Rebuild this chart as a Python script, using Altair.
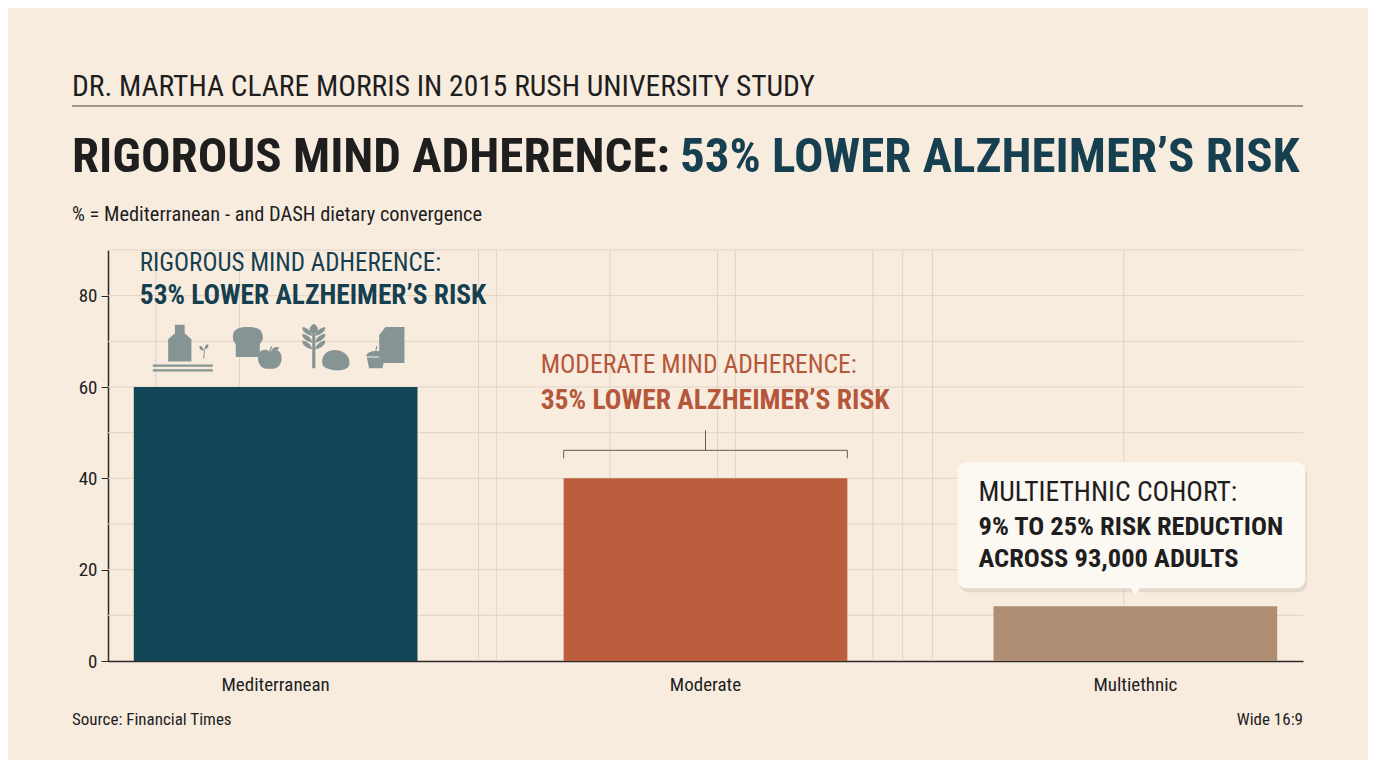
import pandas as pd
import altair as alt

# values
categories = ["Mediterranean", "Moderate", "Multiethnic"]
values = [60, 40, 12]
bar_colors = ["#124657", "#bc5e3d", "#b08e74"]
y_ticks = [0, 20, 40, 60, 80]
grid_y = [10, 20, 30, 40, 50, 60, 70, 80, 90]
grid_x = [4, 11, 31, 32.5, 42, 51, 52.5, 64, 66.5, 69, 85]

COND = "Roboto Condensed, Liberation Sans Narrow, DejaVu Sans Condensed, Arial Narrow, sans-serif"
BG = "#f8ecdf"
INK = "#1e1e1e"
TEAL = "#163f50"
RUST = "#b5573a"
GRID = "#e2d3c2"
ICON = "#869494"

W, H = 1195, 411

df = pd.DataFrame({"cat": categories, "value": values})
med = df[df.cat == "Mediterranean"]
mod = df[df.cat == "Moderate"]
mul = df[df.cat == "Multiethnic"]

x_scale = alt.Scale(type="band", domain=categories, paddingInner=0.34, paddingOuter=0.06)
y_scale = alt.Scale(domain=[0, 90], nice=False)
y_axis = alt.Axis(title=None, values=y_ticks, grid=False, labelFont=COND,
                  labelFontSize=19, labelColor=INK, tickColor="#2a2a2a", tickSize=7,
                  labelPadding=4, domainColor="#2a2a2a", domainWidth=1.5)

xb = lambda pos: alt.X("cat:N", scale=x_scale, bandPosition=pos, axis=None)
yv = alt.Y("value:Q", scale=y_scale, axis=y_axis)

# grid
hgrid = alt.Chart(pd.DataFrame({"g": grid_y})).mark_rule(color=GRID, strokeWidth=1).encode(
    y=alt.Y("g:Q", scale=y_scale, axis=y_axis)
)
vgrid = alt.Chart(pd.DataFrame({"g": grid_x})).mark_rule(color=GRID, strokeWidth=1).encode(
    x=alt.X("g:Q", scale=alt.Scale(domain=[0, 100]), axis=None)
)

bars = alt.Chart(df).mark_bar().encode(
    x=alt.X("cat:N", scale=x_scale, sort=categories,
            axis=alt.Axis(title=None, labelAngle=0, labelFont=COND, labelFontSize=19,
                          labelColor=INK, labelPadding=14, ticks=False, domainColor="#2a2a2a",
                          domainWidth=1.5)),
    y=yv,
    color=alt.Color("cat:N", scale=alt.Scale(domain=categories, range=bar_colors), legend=None),
)


def line(data, text, color, size, weight, dx, dy, pos=0):
    return alt.Chart(data).mark_text(
        text=text, color=color, font=COND, fontSize=size, fontWeight=weight,
        align="left", baseline="middle", dx=dx, dy=dy
    ).encode(x=xb(pos), y=yv)


# rigorous adherence annotation
ann_med = [
    line(med, "RIGOROUS MIND ADHERENCE:", TEAL, 25, "normal", 6, -124),
    line(med, "53% LOWER ALZHEIMER\u2019S RISK", TEAL, 27.4, "bold", 6, -91),
]

# food icons above the Mediterranean bar
ICONS = {
    "bottle": "M-0.25,-1 L0.25,-1 L0.25,-0.55 L0.6,-0.25 L0.6,0.9 L-0.6,0.9 L-0.6,-0.25 "
              "L-0.25,-0.55 Z",
    "shelf": "M-1,-0.12 L1,-0.12 L1,-0.04 L-1,-0.04 Z M-1,0.04 L1,0.04 L1,0.12 L-1,0.12 Z",
    "sprig": "M-0.1,1 L0.05,-0.2 L0.15,-0.2 L0.05,1 Z M0,0 C-0.6,-0.1 -0.7,-0.6 -0.5,-0.7 "
             "C-0.2,-0.6 0,-0.3 0,0 Z M0.1,-0.2 C0.6,-0.3 0.8,-0.8 0.5,-0.9 C0.2,-0.8 0.1,-0.5 0.1,-0.2 Z",
    "bread": "M-1,-0.3 C-1,-0.9 -0.6,-1 0,-1 C0.6,-1 1,-0.9 1,-0.3 C1,0 0.8,0.05 0.8,0.2 "
             "L0.8,1 L-0.8,1 L-0.8,0.2 C-0.8,0.05 -1,0 -1,-0.3 Z",
    "apple": "M0,-0.55 C0.5,-0.9 1,-0.6 1,0 C1,0.7 0.5,1 0,0.9 C-0.5,1 -1,0.7 -1,0 "
             "C-1,-0.6 -0.5,-0.9 0,-0.55 Z M-0.05,-0.6 L0.1,-1 L0.2,-0.95 L0.08,-0.6 Z "
             "M0.15,-0.7 C0.4,-1 0.7,-0.95 0.8,-0.85 C0.6,-0.6 0.35,-0.6 0.15,-0.7 Z",
    "wheat": "M-0.07,-0.6 L0.07,-0.6 L0.07,1 L-0.07,1 Z M0,-1 C0.25,-0.85 0.25,-0.65 0,-0.55 "
             "C-0.25,-0.65 -0.25,-0.85 0,-1 Z M-0.08,-0.45 C-0.45,-0.55 -0.55,-0.75 -0.5,-0.85 "
             "C-0.25,-0.8 -0.08,-0.65 -0.08,-0.45 Z M0.08,-0.45 C0.45,-0.55 0.55,-0.75 0.5,-0.85 "
             "C0.25,-0.8 0.08,-0.65 0.08,-0.45 Z M-0.08,-0.15 C-0.45,-0.25 -0.55,-0.45 -0.5,-0.55 "
             "C-0.25,-0.5 -0.08,-0.35 -0.08,-0.15 Z M0.08,-0.15 C0.45,-0.25 0.55,-0.45 0.5,-0.55 "
             "C0.25,-0.5 0.08,-0.35 0.08,-0.15 Z M-0.08,0.15 C-0.45,0.05 -0.55,-0.15 -0.5,-0.25 "
             "C-0.25,-0.2 -0.08,-0.05 -0.08,0.15 Z M0.08,0.15 C0.45,0.05 0.55,-0.15 0.5,-0.25 "
             "C0.25,-0.2 0.08,-0.05 0.08,0.15 Z",
    "steak": "M-1,0.2 C-1,-0.5 -0.3,-0.8 0.3,-0.6 C0.9,-0.4 1,0 1,0.3 C1,0.8 0.3,0.9 -0.2,0.8 "
             "C-0.7,0.7 -1,0.6 -1,0.2 Z",
    "cupcake": "M-0.8,0.05 L0.8,0.05 L0.6,1 L-0.6,1 Z M-0.85,-0.05 C-0.85,-0.7 0.85,-0.7 0.85,-0.05 Z "
               "M-0.05,-0.55 L0.05,-1 L0.15,-0.95 L0.05,-0.55 Z",
    "carton": "M-0.7,-0.55 L-0.35,-1 L0.7,-1 L0.7,1 L-0.7,1 Z",
}
# (shape, x offset from bar start, y offset from bar top, size)
icon_layout = [
    ("bottle", 46, -43, 1500), ("shelf", 49, -19, 3600), ("sprig", 70, -36, 220),
    ("bread", 114, -45, 900), ("apple", 136, -29, 560),
    ("wheat", 180, -41, 2000), ("steak", 202, -28, 750),
    ("cupcake", 242, -30, 500), ("carton", 258, -42, 1300),
]
icons = [
    alt.Chart(med).mark_point(shape=ICONS[name], filled=True, color=ICON, opacity=1,
                              size=size, strokeWidth=0, xOffset=dx, yOffset=dy)
    .encode(x=xb(0), y=yv)
    for name, dx, dy, size in icon_layout
]

# moderate adherence annotation + bracket
ann_mod = [
    line(mod, "MODERATE MIND ADHERENCE:", RUST, 25.6, "normal", -23, -113),
    line(mod, "35% LOWER ALZHEIMER\u2019S RISK", RUST, 27.6, "bold", -23, -77),
]
bracket = [
    alt.Chart(mod).mark_rule(color="#6b5a4e", strokeWidth=1, yOffset=-28).encode(
        x=xb(0), x2=alt.X2("cat:N", bandPosition=1), y=yv),
    alt.Chart(mod).mark_rule(color="#6b5a4e", strokeWidth=1, yOffset=-28, y2Offset=-20).encode(
        x=xb(0), y=yv, y2=alt.Y2("value:Q")),
    alt.Chart(mod).mark_rule(color="#6b5a4e", strokeWidth=1, yOffset=-28, y2Offset=-20).encode(
        x=xb(1), y=yv, y2=alt.Y2("value:Q")),
    alt.Chart(mod).mark_rule(color="#6b5a4e", strokeWidth=1, yOffset=-48, y2Offset=-28).encode(
        x=xb(0.5), y=yv, y2=alt.Y2("value:Q")),
]

# multiethnic callout
shadow = alt.Chart(mul).mark_rect(
    color="#000000", opacity=0.08, cornerRadius=9,
    xOffset=-34, x2Offset=30, yOffset=-140, y2Offset=-14
).encode(x=xb(0), x2=alt.X2("cat:N", bandPosition=1), y=yv, y2=alt.Y2("value:Q"))
box = alt.Chart(mul).mark_rect(
    color="#fcf8f2", cornerRadius=9,
    xOffset=-36, x2Offset=28, yOffset=-144, y2Offset=-18
).encode(x=xb(0), x2=alt.X2("cat:N", bandPosition=1), y=yv, y2=alt.Y2("value:Q"))
pointer = alt.Chart(mul).mark_point(
    shape="triangle-down", filled=True, color="#fcf8f2", opacity=1, size=110, yOffset=-15
).encode(x=xb(0.5), y=yv)
ann_mul = [
    line(mul, "MULTIETHNIC COHORT:", INK, 27.6, "normal", -15, -113),
    line(mul, "9% TO 25% RISK REDUCTION", INK, 26.5, "bold", -15, -79),
    line(mul, "ACROSS 93,000 ADULTS", INK, 26.5, "bold", -15, -47),
]


def free_text(text, x, y, size, color=INK, weight="normal", align="left", font=COND):
    return alt.Chart(df.head(1)).mark_text(
        text=text, color=color, font=font, fontSize=size, fontWeight=weight,
        align=align, baseline="middle"
    ).encode(x=alt.value(x), y=alt.value(y))


header = [
    free_text("DR. MARTHA CLARE MORRIS IN 2015 RUSH UNIVERSITY STUDY", -36, -163, 29.5),
    alt.Chart(df.head(1)).mark_rule(color="#444444", strokeWidth=1.2).encode(
        x=alt.value(-36), x2=alt.value(W), y=alt.value(-144)),
    free_text("RIGOROUS MIND ADHERENCE:", -36, -93, 49, weight="bold"),
    free_text("53% LOWER ALZHEIMER\u2019S RISK", 572, -93, 49, color=TEAL, weight="bold"),
    free_text("% = Mediterranean - and DASH dietary convergence", -36, -35, 20.4),
    free_text("Source: Financial Times", -36, 470, 17),
    free_text("Wide 16:9", W, 470, 17, align="right"),
]

chart = alt.layer(
    hgrid, vgrid, bars, *icons, *bracket, *ann_med, *ann_mod, shadow, box, pointer,
    *ann_mul, *header
).resolve_scale(x="independent").properties(
    width=W, height=H, background=BG,
    autosize=alt.AutoSizeParams(type="none"),
    padding={"left": 100, "top": 242, "right": 65, "bottom": 99},
).configure_view(stroke=None)

chart.save("out.html", embed_options={"renderer": "svg", "actions": False})
